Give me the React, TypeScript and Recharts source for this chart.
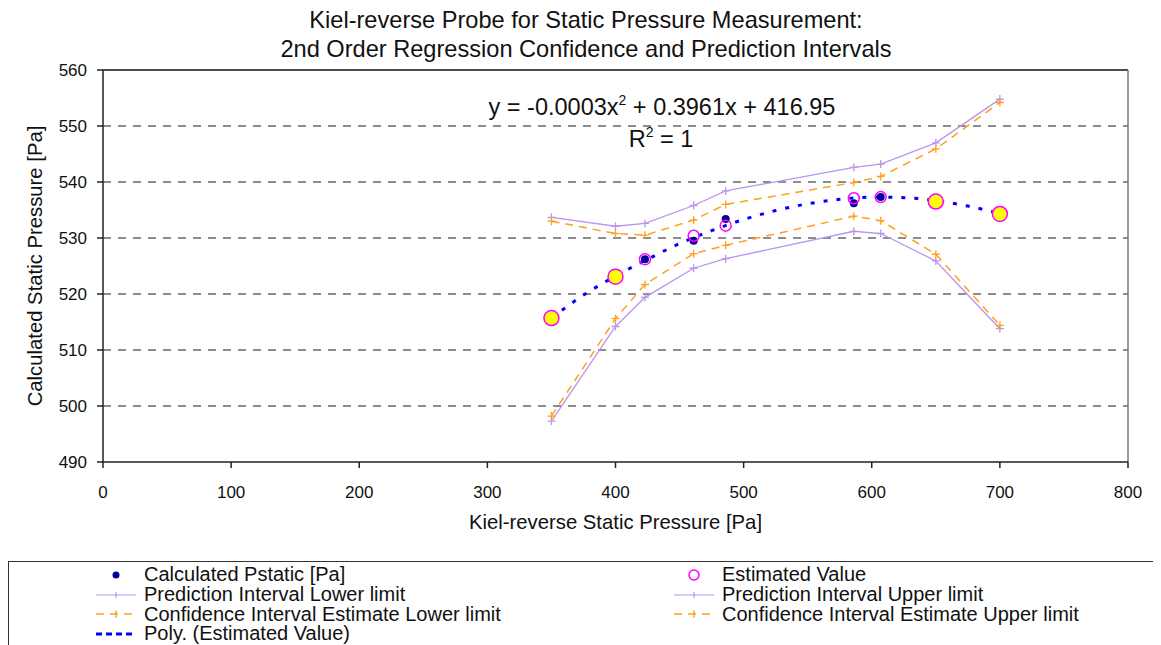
import React from 'react';
import {
  ComposedChart,
  Line,
  Scatter,
  XAxis,
  YAxis,
  CartesianGrid,
  ReferenceLine,
} from 'recharts';

// ---- data ----
const xValues = [350, 400, 423, 461, 486, 586, 607, 650, 700];
const predictionLower = [497.3, 514.2, 519.4, 524.6, 526.3, 531.2, 530.8, 525.9, 513.8];
const predictionUpper = [533.7, 532.1, 532.6, 535.8, 538.4, 542.6, 543.2, 547.0, 554.8];
const confidenceLower = [498.2, 515.6, 521.7, 527.2, 528.7, 533.9, 533.1, 527.1, 514.4];
const confidenceUpper = [533.0, 530.8, 530.5, 533.2, 536.0, 539.9, 541.0, 545.9, 554.2];
const estimatedValue = [515.7, 523.1, 526.2, 530.4, 532.2, 537.1, 537.3, 536.5, 534.3];
const highlightedX = [350, 400, 650, 700];

const calculatedX = [423, 461, 486, 586, 607];
const calculatedPstatic = [526.2, 529.5, 533.4, 536.2, 537.3];

const trendX = [350, 375, 400, 425, 450, 475, 500, 525, 550, 575, 600, 625, 650, 675, 700];
const trendY = [515.7, 519.8, 523.2, 526.2, 529.0, 531.3, 533.3, 534.9, 536.1, 536.9, 537.3, 537.2, 536.7, 535.7, 534.4];

const xTicks = [0, 100, 200, 300, 400, 500, 600, 700, 800];
const yTicks = [490, 500, 510, 520, 530, 540, 550, 560];

const titleLines = [
  'Kiel-reverse Probe for Static Pressure Measurement:',
  '2nd Order Regression Confidence and Prediction Intervals',
];
const xAxisTitle = 'Kiel-reverse Static Pressure [Pa]';
const yAxisTitle = 'Calculated Static Pressure [Pa]';

const toPoints = (xs: number[], ys: number[]) => xs.map((x, i) => ({ x, y: ys[i] }));

const predLowerData = toPoints(xValues, predictionLower);
const predUpperData = toPoints(xValues, predictionUpper);
const confLowerData = toPoints(xValues, confidenceLower);
const confUpperData = toPoints(xValues, confidenceUpper);
const estimatedData = toPoints(xValues, estimatedValue);
const calculatedData = toPoints(calculatedX, calculatedPstatic);
const trendData = toPoints(trendX, trendY);

const FONT = '"Liberation Sans", Arial, Helvetica, sans-serif';
const PURPLE = '#b994f2';
const ORANGE = '#ffa11e';
const BLUE = '#0000ff';
const NAVY = '#000099';
const MAGENTA = '#ff00ff';

const plusDot = (color: string) => (props: any) => {
  const { cx, cy, index } = props;
  if (cx == null || cy == null) return <g key={`p-${index}`} />;
  return (
    <path
      key={`p-${index}`}
      d={`M${cx - 4},${cy}H${cx + 4}M${cx},${cy - 4}V${cy + 4}`}
      stroke={color}
      strokeWidth={1.3}
      fill="none"
    />
  );
};

const estimatedShape = (props: any) => {
  const { cx, cy, payload } = props;
  const hi = highlightedX.includes(payload.x);
  return (
    <circle
      cx={cx}
      cy={cy}
      r={hi ? 7.5 : 5.5}
      fill={hi ? '#ffff00' : 'none'}
      stroke={MAGENTA}
      strokeWidth={1.5}
    />
  );
};

const calculatedShape = (props: any) => {
  const { cx, cy } = props;
  return <circle cx={cx} cy={cy} r={4} fill={NAVY} stroke="none" />;
};

const legendItems = [
  { label: 'Calculated Pstatic [Pa]', kind: 'dot' },
  { label: 'Estimated Value', kind: 'ring' },
  { label: 'Prediction Interval Lower limit', kind: 'pred' },
  { label: 'Prediction Interval Upper limit', kind: 'pred' },
  { label: 'Confidence Interval Estimate Lower limit', kind: 'conf' },
  { label: 'Confidence Interval Estimate Upper limit', kind: 'conf' },
  { label: 'Poly. (Estimated Value)', kind: 'poly' },
];

const LegendIcon = ({ kind }: { kind: string }) => (
  <svg width={42} height={14} style={{ display: 'block' }}>
    {kind === 'dot' && <circle cx={21} cy={7} r={3.5} fill={NAVY} />}
    {kind === 'ring' && <circle cx={21} cy={7} r={5} fill="none" stroke={MAGENTA} strokeWidth={1.5} />}
    {kind === 'pred' && (
      <g stroke={PURPLE} strokeWidth={1.2}>
        <line x1={1} y1={7} x2={41} y2={7} />
        <line x1={21} y1={4} x2={21} y2={10} />
      </g>
    )}
    {kind === 'conf' && (
      <g stroke={ORANGE} strokeWidth={1.5}>
        <line x1={1} y1={7} x2={41} y2={7} strokeDasharray="8 6" />
        <line x1={21} y1={3.5} x2={21} y2={10.5} />
      </g>
    )}
    {kind === 'poly' && (
      <line x1={1} y1={7} x2={41} y2={7} stroke={BLUE} strokeWidth={3} strokeDasharray="6 4" />
    )}
  </svg>
);

export default function App() {
  return (
    <div style={{ position: 'relative', width: 1153, height: 637, fontFamily: FONT, background: '#fff', overflow: 'hidden' }}>
      <ComposedChart
        width={1153}
        height={553}
        margin={{ top: 62, right: 33, left: 0, bottom: 0 }}
        style={{ fontFamily: FONT }}
      >
        <CartesianGrid
          horizontal={true}
          vertical={false}
          stroke="#1a1a1a"
          strokeWidth={1.1}
          strokeDasharray="8 7"
          horizontalValues={[500, 510, 520, 530, 540, 550]}
        />
        <XAxis
          type="number"
          dataKey="x"
          domain={[0, 800]}
          ticks={xTicks}
          allowDataOverflow
          height={99}
          tickSize={6}
          tickMargin={18}
          stroke="#222"
          strokeWidth={1.5}
          tick={{ fill: '#111', fontSize: 17, fontFamily: FONT }}
          label={{
            content: (p: any) => {
              const vb = p.viewBox;
              return (
                <text x={vb.x + vb.width / 2} y={vb.y + 67} textAnchor="middle" fontSize={20.3} fill="#111" fontFamily={FONT}>
                  {xAxisTitle}
                </text>
              );
            },
          }}
        />
        <YAxis
          type="number"
          dataKey="y"
          domain={[490, 560]}
          ticks={yTicks}
          allowDataOverflow
          width={95}
          tickSize={6}
          tickMargin={10}
          stroke="#222"
          strokeWidth={1.5}
          tick={{ fill: '#111', fontSize: 17, fontFamily: FONT }}
          label={{
            content: (p: any) => {
              const vb = p.viewBox;
              const cx = 27;
              const cy = vb.y + vb.height / 2;
              return (
                <text
                  x={cx}
                  y={cy}
                  transform={`rotate(-90 ${cx} ${cy})`}
                  textAnchor="middle"
                  dominantBaseline="central"
                  fontSize={20.3}
                  fill="#111"
                  fontFamily={FONT}
                >
                  {yAxisTitle}
                </text>
              );
            },
          }}
        />
        <ReferenceLine y={560} stroke="#111" strokeWidth={1.5} ifOverflow="extendDomain" />
        <ReferenceLine x={800} stroke="#777" strokeWidth={1.5} ifOverflow="extendDomain" />

        <Line
          data={predLowerData}
          dataKey="y"
          stroke={PURPLE}
          strokeWidth={1.3}
          dot={plusDot(PURPLE)}
          activeDot={false}
          isAnimationActive={false}
          legendType="none"
        />
        <Line
          data={predUpperData}
          dataKey="y"
          stroke={PURPLE}
          strokeWidth={1.3}
          dot={plusDot(PURPLE)}
          activeDot={false}
          isAnimationActive={false}
          legendType="none"
        />
        <Line
          data={confLowerData}
          dataKey="y"
          stroke={ORANGE}
          strokeWidth={1.5}
          strokeDasharray="8 6"
          dot={plusDot(ORANGE)}
          activeDot={false}
          isAnimationActive={false}
          legendType="none"
        />
        <Line
          data={confUpperData}
          dataKey="y"
          stroke={ORANGE}
          strokeWidth={1.5}
          strokeDasharray="8 6"
          dot={plusDot(ORANGE)}
          activeDot={false}
          isAnimationActive={false}
          legendType="none"
        />
        <Scatter
          data={calculatedData}
          dataKey="y"
          shape={calculatedShape}
          isAnimationActive={false}
          legendType="none"
        />
        <Scatter
          data={estimatedData}
          dataKey="y"
          shape={estimatedShape}
          isAnimationActive={false}
          legendType="none"
        />
        <Line
          data={trendData}
          dataKey="y"
          type="monotone"
          stroke={BLUE}
          strokeWidth={3}
          strokeDasharray="4 9"
          dot={false}
          activeDot={false}
          isAnimationActive={false}
          legendType="none"
        />
      </ComposedChart>

      <svg width={1153} height={160} style={{ position: 'absolute', left: 0, top: 0, pointerEvents: 'none' }}>
        <text x={578} y={20} textAnchor="middle" fontSize={23.6} fill="#111" fontFamily={FONT}>
          {titleLines[0]}
        </text>
        <text x={578} y={49} textAnchor="middle" fontSize={23.6} fill="#111" fontFamily={FONT}>
          {titleLines[1]}
        </text>
        <text x={654} y={107} textAnchor="middle" fontSize={23.5} fill="#111" fontFamily={FONT}>
          <tspan>y = -0.0003x</tspan>
          <tspan fontSize={14} dy={-10}>2</tspan>
          <tspan dy={10}> + 0.3961x + 416.95</tspan>
        </text>
        <text x={653} y={139} textAnchor="middle" fontSize={23.5} fill="#111" fontFamily={FONT}>
          <tspan>R</tspan>
          <tspan fontSize={14} dy={-10}>2</tspan>
          <tspan dy={10}> = 1</tspan>
        </text>
      </svg>

      <div
        style={{
          position: 'absolute',
          left: 0,
          top: 553,
          width: 1147,
          height: 120,
          border: '1px solid #333',
          boxSizing: 'border-box',
          paddingTop: 3,
        }}
      >
        <div style={{ display: 'grid', gridTemplateColumns: '578px 560px', rowGap: 0 }}>
          {legendItems.map((it, i) => (
            <div
              key={i}
              style={{
                display: 'flex',
                alignItems: 'center',
                height: 19.7,
                fontSize: 20,
                color: '#111',
                whiteSpace: 'nowrap',
                paddingLeft: 86,
              }}
            >
              <LegendIcon kind={it.kind} />
              <span style={{ marginLeft: 7 }}>{it.label}</span>
            </div>
          ))}
        </div>
      </div>
    </div>
  );
}
